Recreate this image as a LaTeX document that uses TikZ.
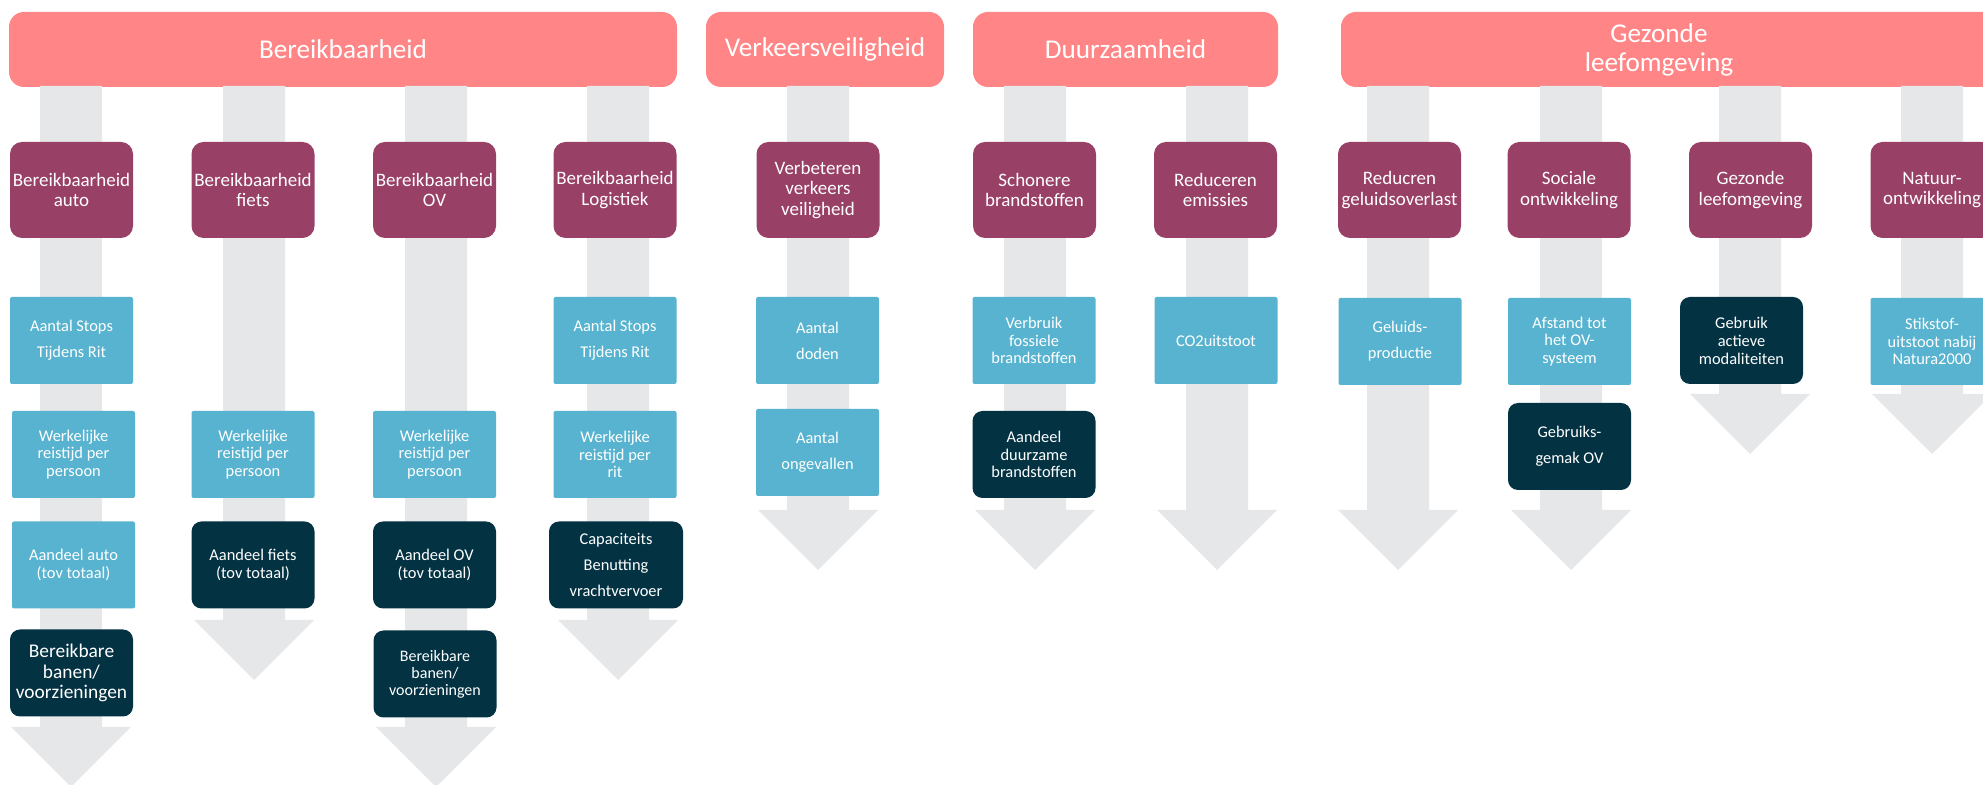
\documentclass[tikz,border=0pt]{standalone}
\usepackage{fontspec}
\setmainfont{Carlito}
\definecolor{salmon}{RGB}{255,133,134}
\definecolor{plum}{RGB}{153,64,102}
\definecolor{sky}{RGB}{87,179,207}
\definecolor{navy}{RGB}{3,50,67}
\definecolor{shaftgrey}{RGB}{230,231,233}

% one wide grey down-arrow behind a column: #1 = centre x, #2 = top of the head
\newcommand\colarrow[2]{%
  \fill[shaftgrey] (#1-31,86) -- (#1+31,86) -- (#1+31,#2) -- (#1+60,#2)
    -- (#1,#2+60) -- (#1-60,#2) -- (#1-31,#2) -- cycle;}

\begin{document}
\begin{tikzpicture}[x=0.5pt,y=-0.5pt,
  hdr/.style={fill=salmon, rounded corners=7.5pt, minimum height=37.5pt,
    inner sep=0pt, text=white, align=center, font=\fontsize{13.6}{14.5}\selectfont},
  hdrtext/.style={inner sep=0pt, text=white, align=center, font=\fontsize{13.6}{14.5}\selectfont},
  purp/.style={fill=plum, rounded corners=6pt, minimum width=61.5pt, minimum height=48pt,
    inner sep=0pt, text=white, align=center, font=\fontsize{9.5}{10.2}\selectfont},
  lite/.style={fill=sky, rounded corners=1pt, minimum width=61.5pt, minimum height=43.5pt,
    inner sep=0pt, text=white, align=center, font=\fontsize{8.2}{8.8}\selectfont},
  deep/.style={fill=navy, rounded corners=5pt, minimum width=61.5pt, minimum height=43.5pt,
    inner sep=0pt, text=white, align=center, font=\fontsize{8.2}{8.8}\selectfont},
  loose/.style={font=\fontsize{8.2}{13}\selectfont}]

\useasboundingbox (0,0) rectangle (1983,785);
\clip (0,0) rectangle (1983,785);

% theme headers
\node[hdr, minimum width=334pt] (h1) at (343,49.5) {Bereikbaarheid};
\node[hdr, minimum width=119pt] (h2) at (825,49.5) {Verkeersveiligheid};
\node[hdr, minimum width=152.5pt] (h3) at (1125.5,49.5) {Duurzaamheid};
\node[hdr, minimum width=340pt] (h4) at (1681,49.5) {};
\node[hdrtext] (h4t) at (1659,50) {Gezonde\\leefomgeving};

% grey column arrows
\colarrow{71}{727}
\colarrow{254}{620}
\colarrow{436}{727}
\colarrow{618}{620}
\colarrow{818}{510}
\colarrow{1035}{510}
\colarrow{1217}{510}
\colarrow{1398}{510}
\colarrow{1571}{510}
\colarrow{1750}{394}
\colarrow{1932}{394}

% goals
\node[purp] (p1) at (71.5,190) {Bereikbaarheid\\auto};
\node[purp] (p2) at (253,190) {Bereikbaarheid\\fiets};
\node[purp] (p3) at (434.5,190) {Bereikbaarheid\\OV};
\node[purp] (p4) at (615,190) {Bereikbaarheid\\Logistiek};
\node[purp] (p5) at (818,190) {Verbeteren\\verkeers\\veiligheid};
\node[purp] (p6) at (1034.5,190) {Schonere\\brandstoffen};
\node[purp] (p7) at (1215.5,190) {Reduceren\\emissies};
\node[purp] (p8) at (1399.5,190) {Reducren\\geluidsoverlast};
\node[purp] (p9) at (1569,190) {Sociale\\ontwikkeling};
\node[purp] (p10) at (1750.5,190) {Gezonde\\leefomgeving};
\node[purp] (p11) at (1932,190) {Natuur-\\ontwikkeling};

% indicators, first row
\node[lite, loose] (b1) at (71.5,340.5) {Aantal Stops\\Tijdens Rit};
\node[lite, loose] (b4) at (615,340.5) {Aantal Stops\\Tijdens Rit};
\node[lite, loose] (b5) at (817.5,340.5) {Aantal\\doden};
\node[lite] (b6) at (1034,340.5) {Verbruik\\fossiele\\brandstoffen};
\node[lite] (b7) at (1216,340.5) {CO2uitstoot};
\node[lite, loose] (b8) at (1400,341.5) {Geluids-\\productie};
\node[lite] (b9) at (1569.5,341.5) {Afstand tot\\het OV-\\systeem};
\node[deep, font=\fontsize{8.2}{9}\selectfont] (b10) at (1741.5,340.5) {Gebruik\\actieve\\modaliteiten};
\node[lite] (b11) at (1932,341.5) {Stikstof-\\uitstoot nabij\\Natura2000};

% second row
\node[lite] (c1) at (73.5,454.5) {Werkelijke\\reistijd per\\persoon};
\node[lite] (c2) at (253,454.5) {Werkelijke\\reistijd per\\persoon};
\node[lite] (c3) at (434.5,454.5) {Werkelijke\\reistijd per\\persoon};
\node[lite] (c4) at (615,454.5) {Werkelijke\\reistijd per\\rit};
\node[lite, loose] (c5) at (817.5,452.5) {Aantal\\ongevallen};
\node[deep] (c6) at (1034,454.5) {Aandeel\\duurzame\\brandstoffen};
\node[deep, loose] (c9) at (1569.5,446.5) {Gebruiks-\\gemak OV};

% third row
\node[lite] (d1) at (73.5,565) {Aandeel auto\\(tov totaal)};
\node[deep] (d2) at (253,565) {Aandeel fiets\\(tov totaal)};
\node[deep] (d3) at (434.5,565) {Aandeel OV\\(tov totaal)};
\node[deep, minimum width=67pt, font=\fontsize{8.2}{13.2}\selectfont] (d4) at (616,565) {Capaciteits\\Benutting\\vrachtvervoer};

% fourth row
\node[deep, font=\fontsize{9.7}{10.3}\selectfont] (e1) at (71.5,673) {Bereikbare\\banen/\\voorzieningen};
\node[deep, font=\fontsize{8}{8.5}\selectfont] (e3) at (435,674) {Bereikbare\\banen/\\voorzieningen};

\end{tikzpicture}
\end{document}
